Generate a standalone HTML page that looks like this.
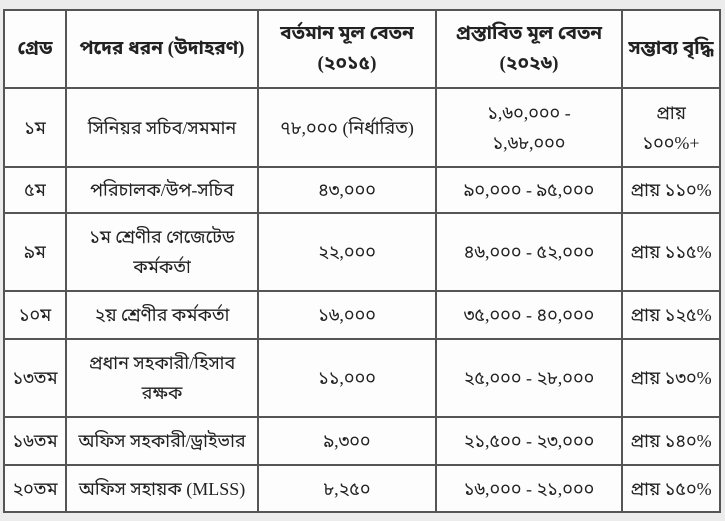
<!DOCTYPE html>
<html><head><meta charset="utf-8"><style>
html,body{margin:0;padding:0;}
body{width:725px;height:521px;background:#ececec;position:relative;overflow:hidden;font-family:"Liberation Serif","Noto Sans Bengali","Lohit Bengali","FreeSerif",serif;}
table{position:absolute;left:3px;top:9px;border-collapse:collapse;background:#fdfdfd;table-layout:fixed;}
td{border:2px solid #555;text-align:center;vertical-align:middle;font-size:18px;color:#222;padding:0 4px;line-height:30px;}
tr.h td{font-weight:bold;font-size:19px;}
</style></head><body>
<table>
<colgroup><col style="width:62px"><col style="width:192px"><col style="width:178px"><col style="width:186px"><col style="width:98px"></colgroup>
<tr class="h" style="height:78px"><td>গ্রেড</td><td>পদের ধরন (উদাহরণ)</td><td>বর্তমান মূল বেতন<br>(২০১৫)</td><td>প্রস্তাবিত মূল বেতন<br>(২০২৬)</td><td>সম্ভাব্য বৃদ্ধি</td></tr>
<tr style="height:79px"><td>১ম</td><td>সিনিয়র সচিব/সমমান</td><td>৭৮,০০০ (নির্ধারিত)</td><td>১,৬০,০০০ -<br>১,৬৮,০০০</td><td>প্রায়<br>১০০%+</td></tr>
<tr style="height:46px"><td>৫ম</td><td>পরিচালক/উপ-সচিব</td><td>৪৩,০০০</td><td>৯০,০০০ - ৯৫,০০০</td><td>প্রায় ১১০%</td></tr>
<tr style="height:78px"><td>৯ম</td><td>১ম শ্রেণীর গেজেটেড<br>কর্মকর্তা</td><td>২২,০০০</td><td>৪৬,০০০ - ৫২,০০০</td><td>প্রায় ১১৫%</td></tr>
<tr style="height:48px"><td>১০ম</td><td>২য় শ্রেণীর কর্মকর্তা</td><td>১৬,০০০</td><td>৩৫,০০০ - ৪০,০০০</td><td>প্রায় ১২৫%</td></tr>
<tr style="height:78px"><td>১৩তম</td><td>প্রধান সহকারী/হিসাব<br>রক্ষক</td><td>১১,০০০</td><td>২৫,০০০ - ২৮,০০০</td><td>প্রায় ১৩০%</td></tr>
<tr style="height:48px"><td>১৬তম</td><td>অফিস সহকারী/ড্রাইভার</td><td>৯,৩০০</td><td>২১,৫০০ - ২৩,০০০</td><td>প্রায় ১৪০%</td></tr>
<tr style="height:47px"><td>২০তম</td><td>অফিস সহায়ক (MLSS)</td><td>৮,২৫০</td><td>১৬,০০০ - ২১,০০০</td><td>প্রায় ১৫০%</td></tr>
</table>
</body></html>
